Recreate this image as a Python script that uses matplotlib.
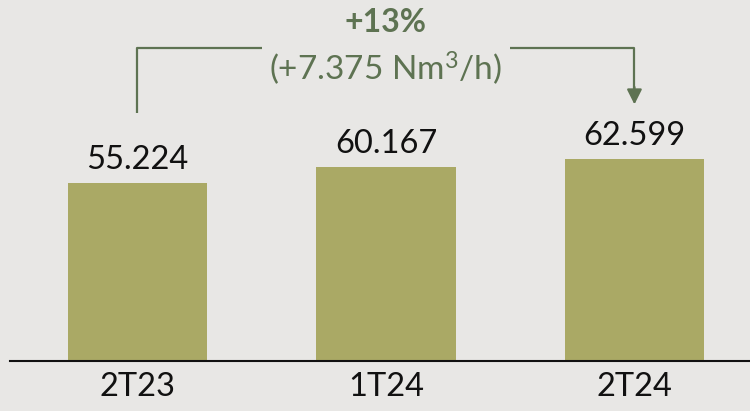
import matplotlib
matplotlib.use("Agg")
import matplotlib.pyplot as plt

# data
categories = ["2T23", "1T24", "2T24"]
values = [55.224, 60.167, 62.599]
value_labels = ["55.224", "60.167", "62.599"]
growth_pct = "+13%"
growth_abs = r"(+7.375 Nm$\mathregular{^3}$/h)"

bg = "#e8e7e5"
bar_color = "#aaa965"
note_color = "#5e7352"

plt.rcParams["font.family"] = ["Lato", "DejaVu Sans"]
plt.rcParams["mathtext.fontset"] = "custom"
plt.rcParams["mathtext.rm"] = "Lato"

fig = plt.figure(figsize=(7.5, 4.11), dpi=100, facecolor=bg)
# axes: bottom spine at pixel row 361, top of figure at 0
ax = fig.add_axes([0, 50 / 411, 1, 361 / 411])
ax.set_facecolor(bg)

x = list(range(len(categories)))
ax.bar(x, values, width=0.56, color=bar_color, zorder=2)

for xi, v, lab in zip(x, values, value_labels):
    ax.text(xi, v + 7.1, lab, ha="center", va="center", fontsize=23.5, color="#111111")

ax.set_xlim(-0.553, 2.465)
ax.set_ylim(0, 112)
ax.set_xticks(x)
ax.set_xticklabels(categories, fontsize=23.5, color="#111111")
ax.tick_params(axis="x", length=0, pad=8)
ax.set_yticks([])
for s in ["top", "right", "left"]:
    ax.spines[s].set_visible(False)
ax.spines["bottom"].set_color("#111111")
ax.spines["bottom"].set_linewidth(1.5)
ax.spines["bottom"].set_bounds(-0.513, 2.465)

# growth bracket from first to last bar
y_h = 97.1
ax.plot([0, 0, 0.5], [77, y_h, y_h], color=note_color, lw=1.6, solid_capstyle="butt")
ax.plot([1.5, 2, 2], [y_h, y_h, 84], color=note_color, lw=1.6, solid_capstyle="butt")
ax.annotate("", xy=(2, 79.6), xytext=(2, 85),
            arrowprops=dict(arrowstyle="-|>,head_length=0.9,head_width=0.45",
                            color=note_color, lw=1.6, shrinkA=0, shrinkB=0))
ax.text(1, 105.0, growth_pct, ha="center", va="center", fontsize=23,
        fontweight="bold", color=note_color)
ax.text(1, 91.0, growth_abs, ha="center", va="center", fontsize=24, color=note_color)

fig.savefig("out.png", dpi=100, facecolor=bg)
